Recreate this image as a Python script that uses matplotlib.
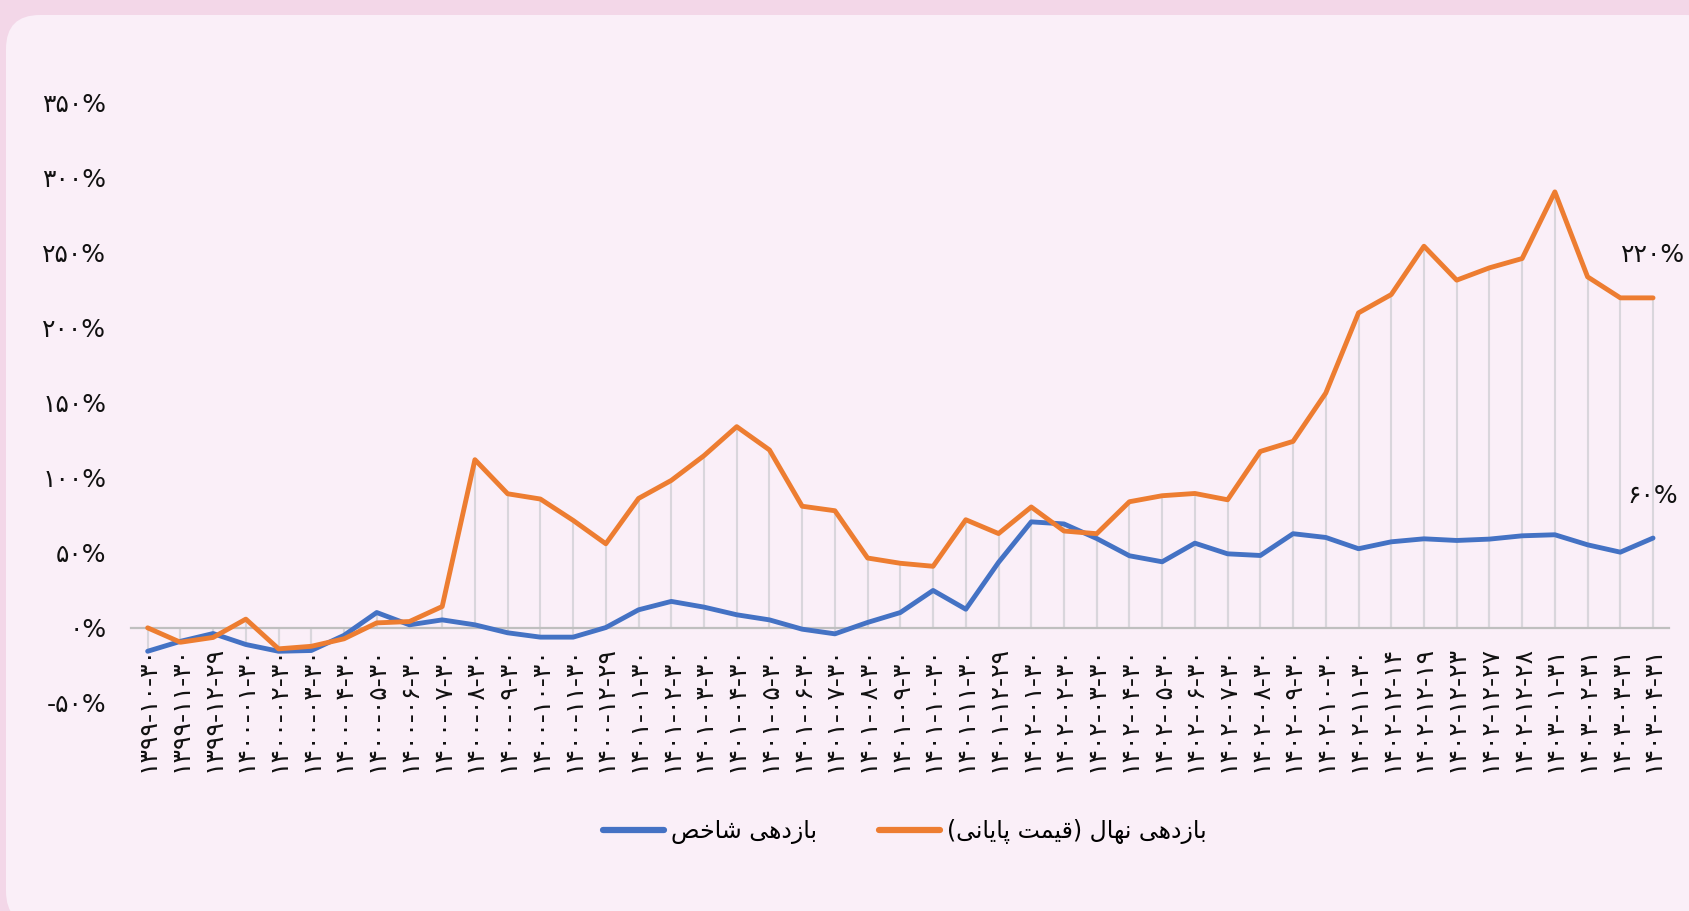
import matplotlib
matplotlib.use("Agg")
import matplotlib.pyplot as plt
from matplotlib.patches import FancyBboxPatch
import numpy as np

# ---------------- data ----------------
dates = [
    "1399-10-30", "1399-11-30", "1399-12-29",
    "1400-01-30", "1400-02-30", "1400-03-30", "1400-04-30", "1400-05-30", "1400-06-30",
    "1400-07-30", "1400-08-30", "1400-09-30", "1400-10-30", "1400-11-30", "1400-12-29",
    "1401-01-30", "1401-02-30", "1401-03-30", "1401-04-30", "1401-05-30", "1401-06-30",
    "1401-07-30", "1401-08-30", "1401-09-30", "1401-10-30", "1401-11-30", "1401-12-29",
    "1402-01-30", "1402-02-30", "1402-03-30", "1402-04-30", "1402-05-30", "1402-06-30",
    "1402-07-30", "1402-08-30", "1402-09-30", "1402-10-30", "1402-11-30",
    "1402-12-14", "1402-12-19", "1402-12-23", "1402-12-27", "1402-12-28",
    "1403-01-31", "1403-02-31", "1403-03-31", "1403-04-31",
]

nahal_return = [
    0, -9.6, -6.4, 5.8, -14, -12.3, -7.3, 3.3, 4.2, 14.2,
    112, 89.3, 85.8, 71.6, 56, 86.2, 98.2, 114.7, 134, 118.5,
    81, 78, 46.5, 43, 41, 72, 62.8, 80.5, 64.5, 62.7,
    84, 88, 89.5, 85.3, 117.5, 124.2, 156.4, 209.8, 222, 254.2,
    231.6, 239.8, 246, 290.4, 233.8, 219.8, 219.8,
]

index_return = [
    -15.6, -9, -3.8, -11.1, -15.6, -15.1, -5, 10.2, 2, 5.3,
    2, -3.3, -6.2, -6.2, 0.2, 12, 17.6, 13.8, 8.7, 5.3,
    -0.9, -4, 3.6, 10.2, 24.9, 12.4, 43.6, 70.6, 69.2, 59.5,
    48, 44, 56.4, 49.3, 48.2, 62.7, 60.2, 52.7, 57.3, 59.3,
    58.2, 59.1, 61.3, 62, 55.3, 50.4, 59.8,
]

y_ticks = [-50, 0, 50, 100, 150, 200, 250, 300, 350]

label_index = "بازدهی شاخص"
label_nahal = "بازدهی نهال (قیمت پایانی)"

# ---------------- helpers ----------------
FA_DIGITS = str.maketrans("0123456789", "۰۱۲۳۴۵۶۷۸۹")


def fa(s):
    return str(s).translate(FA_DIGITS)


# isolated, final, initial, medial (None -> right-joining only)
FORMS = {
    "ا": ("\uFE8D", "\uFE8E", None, None),
    "ب": ("\uFE8F", "\uFE90", "\uFE91", "\uFE92"),
    "پ": ("\uFB56", "\uFB57", "\uFB58", "\uFB59"),
    "ت": ("\uFE95", "\uFE96", "\uFE97", "\uFE98"),
    "خ": ("\uFEA5", "\uFEA6", "\uFEA7", "\uFEA8"),
    "د": ("\uFEA9", "\uFEAA", None, None),
    "ز": ("\uFEAF", "\uFEB0", None, None),
    "ش": ("\uFEB5", "\uFEB6", "\uFEB7", "\uFEB8"),
    "ص": ("\uFEB9", "\uFEBA", "\uFEBB", "\uFEBC"),
    "ق": ("\uFED5", "\uFED6", "\uFED7", "\uFED8"),
    "ل": ("\uFEDD", "\uFEDE", "\uFEDF", "\uFEE0"),
    "م": ("\uFEE1", "\uFEE2", "\uFEE3", "\uFEE4"),
    "ن": ("\uFEE5", "\uFEE6", "\uFEE7", "\uFEE8"),
    "ه": ("\uFEE9", "\uFEEA", "\uFEEB", "\uFEEC"),
    "ی": ("\uFBFC", "\uFBFD", "\uFBFE", "\uFBFF"),
}


def shape_rtl(text):
    out = []
    n = len(text)
    for i, ch in enumerate(text):
        if ch not in FORMS:
            out.append(ch)
            continue
        f = FORMS[ch]
        prev = text[i - 1] if i > 0 else None
        nxt = text[i + 1] if i < n - 1 else None
        join_prev = prev in FORMS and FORMS[prev][2] is not None
        join_next = f[2] is not None and nxt in FORMS
        if join_prev and join_next:
            out.append(f[3])
        elif join_prev:
            out.append(f[1])
        elif join_next:
            out.append(f[2])
        else:
            out.append(f[0])
    vis = "".join(reversed(out))
    vis = vis.translate(str.maketrans("()", ")("))
    return vis


# ---------------- figure ----------------
W, H = 1690, 911
fig = plt.figure(figsize=(W / 100, H / 100), dpi=100)
fig.patch.set_facecolor("#F3D7E8")

panel = FancyBboxPatch((6 / W, (H - 925) / H), (1720 - 6) / W, (925 - 15) / H,
                       boxstyle="round,pad=0,rounding_size=0.02",
                       transform=fig.transFigure, facecolor="#FAEFF8",
                       edgecolor="none", zorder=-5, mutation_aspect=W / H)
fig.patches.append(panel)

ax_left, ax_right = 131.3 / W, 1669.4 / W
ax_bottom, ax_top = (H - 702.9) / H, (H - 102.4) / H
ax = fig.add_axes([ax_left, ax_bottom, ax_right - ax_left, ax_top - ax_bottom])
ax.set_facecolor("none")
ax.set_zorder(2)

x = np.arange(len(dates))

# drop lines
for series in (index_return, nahal_return):
    ax.vlines(x, 0, series, colors="#D9D6DC", linewidth=1.5, zorder=1)

ax.plot(x, index_return, color="#4472C4", linewidth=3.5, solid_joinstyle="round",
        solid_capstyle="round", zorder=3, label=shape_rtl(label_index))
ax.plot(x, nahal_return, color="#ED7D31", linewidth=3.5, solid_joinstyle="round",
        solid_capstyle="round", zorder=4, label=shape_rtl(label_nahal))

ax.set_xlim(-0.5, len(dates) - 0.5)
ax.set_ylim(-50, 350)

for s in ("top", "right", "left"):
    ax.spines[s].set_visible(False)
ax.spines["bottom"].set_position(("data", 0))
ax.spines["bottom"].set_color("#BFBFBF")
ax.spines["bottom"].set_linewidth(1.6)
ax.spines["bottom"].set_zorder(2)

ax.set_xticks(x)
ax.set_xticklabels([fa(d) for d in dates], rotation=90, fontsize=18,
                   family="DejaVu Sans", color="#111111")
ax.tick_params(axis="x", length=0, pad=13)

ax.set_yticks(y_ticks)
ax.set_yticklabels([fa(f"{v}%") if v >= 0 else "-" + fa(f"{-v}%") for v in y_ticks],
                   fontsize=18, family="DejaVu Sans", color="#111111")
ax.tick_params(axis="y", length=0, pad=18)

# end labels
ax.annotate(fa(f"{round(nahal_return[-1])}%"), (x[-1], nahal_return[-1]),
            xytext=(0, 31), textcoords="offset points", ha="center", va="center",
            fontsize=18, color="#111111", annotation_clip=False)
ax.annotate(fa(f"{round(index_return[-1])}%"), (x[-1], index_return[-1]),
            xytext=(0, 30), textcoords="offset points", ha="center", va="center",
            fontsize=18, color="#111111", annotation_clip=False)

leg = fig.legend(loc="center", bbox_to_anchor=(905 / W, (H - 832) / H), ncol=2,
                 frameon=False, fontsize=17, handlelength=2.6, columnspacing=2.6,
                 handletextpad=0.3)
for line in leg.get_lines():
    line.set_linewidth(4.5)
    line.set_solid_capstyle("round")

fig.savefig("out.png", dpi=100, facecolor=fig.get_facecolor())
